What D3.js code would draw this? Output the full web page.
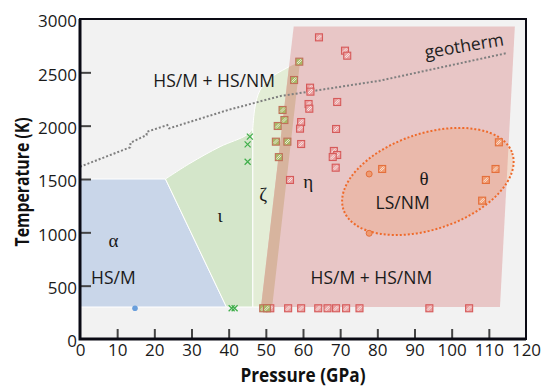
<!DOCTYPE html>
<html><head><meta charset="utf-8">
<script src="https://cdn.jsdelivr.net/npm/d3@7"></script>
<style>
html,body{margin:0;padding:0;background:#fff;}
svg{display:block;}
text{font-family:"Open Sans",sans-serif;}
</style></head>
<body><svg id="c" width="558" height="388"></svg>
<script>
// ---------- data ----------
const xTicks = [0,10,20,30,40,50,60,70,80,90,100,110,120];
const yTicks = [0,500,1000,1500,2000,2500,3000];

// phase regions (P in GPa, T in K)
const alphaRegion = [[0,300],[0,1500],[23,1500],[39.4,300]];
const iotaTop = [[23,1500],[29.6,1647],[37.7,1803],[44.8,1912],[46.5,1975]];
const iotaRest = [[46.5,300],[39.4,300]];
const zetaTop = [[46.5,1975],[47.1,2175],[48.4,2330],[51.1,2444],[55.6,2540],[59.2,2600]];
const zetaRest = [[51.7,300],[46.5,300]];
const pinkRegion = [[48.7,300],[57.5,2930],[117.0,2930],[113.0,300]];
const lsCenter = [93.6,1477];

const geotherm = [[0,1615],[13.5,1797],[13.6,1840],[17.9,1912],[18.0,1943],[23.5,2006],[24.0,1975],[40.4,2153],[54,2278],[80.7,2422],[114.8,2680]];

const alphaPts = [[14.8,288]];
const iotaX = [[40.8,288],[41.6,288],[45.7,1897],[45.1,1825],[45.1,1662]];
const zetaSq = [[59.0,2600],[57.6,2428],[54.5,2147],[55.0,2053],[53.2,1997],[52.7,1850],[55.8,1850],[53.5,1705],[49.3,288],[50.3,288]];
const etaSq = [[64.3,2828],[71.3,2703],[71.9,2656],[61.9,2356],[62.0,2319],[61.5,2203],[61.7,2159],[69.2,2222],[59.5,2034],[59.2,1972],[68.9,1969],[59.5,1828],[68.3,1763],[69.2,1725],[68.0,1706],[68.8,1606],[56.5,1491],
  [51.2,288],[56.0,288],[59.5,288],[64.1,288],[66.6,288],[68.9,288],[71.6,288],[75.2,288],[94.0,288],[104.7,288]];
const thetaSq = [[81.3,1594],[112.7,1844],[111.8,1594],[109.2,1491],[108.2,1297]];
const thetaCirc = [[77.8,1547],[77.8,991]];

const labels = [
  {t:"HS/M + HS/NM", p:36.1, T:2360, cls:"lab"},
  {t:"HS/M", p:9.0, T:513, cls:"lab"},
  {t:"LS/NM", p:86.8, T:1216, cls:"lab"},
  {t:"HS/M + HS/NM", p:78.4, T:513, cls:"lab"},
  {t:"α", p:9.0, T:860, cls:"gr"},
  {t:"ι", p:37.7, T:1100, cls:"gr"},
  {t:"ζ", p:49.3, T:1290, cls:"gr"},
  {t:"η", p:61.4, T:1420, cls:"gr"},
  {t:"θ", p:92.6, T:1440, cls:"gr"}
];

// ---------- chart ----------
const svg = d3.select("#c");
const x = d3.scaleLinear().domain([0,120]).range([80,526]);
const y = d3.scaleLinear().domain([0,3000]).range([339,19]);
const P = d => [x(d[0]), y(d[1])];

svg.append("rect").attr("x",x(0)).attr("y",y(3000)).attr("width",x(120)-x(0)).attr("height",y(0)-y(3000)).attr("fill","#f2f2f2");

const defs = svg.append("defs");
const poly = pts => "M" + pts.map(p => P(p).join(",")).join("L") + "Z";
const curved = (top, rest) => {
  const l = d3.line().x(d=>x(d[0])).y(d=>y(d[1])).curve(d3.curveCatmullRom);
  return l(top) + rest.map(p => "L" + P(p).join(",")).join("") + "Z";
};

svg.append("path").attr("d", poly(alphaRegion)).attr("fill","#c9d6e9").attr("stroke","#fff").attr("stroke-width",1);
svg.append("path").attr("d", curved(iotaTop, iotaRest)).attr("fill","#d4e6ca").attr("stroke","#fff").attr("stroke-width",1);
const zetaD = curved(zetaTop, zetaRest);
svg.append("path").attr("d", zetaD).attr("fill","#e3edd6").attr("stroke","#fff").attr("stroke-width",1);
svg.append("path").attr("d", poly(pinkRegion)).attr("fill","#e8c6c6");
defs.append("clipPath").attr("id","pinkClip").append("path").attr("d", poly(pinkRegion));
svg.append("path").attr("d", zetaD).attr("fill","#d7b49e").attr("clip-path","url(#pinkClip)");

// geotherm
svg.append("path").attr("d", d3.line().x(d=>x(d[0])).y(d=>y(d[1]))(geotherm))
  .attr("fill","none").attr("stroke","#7f7f7f").attr("stroke-width",2).attr("stroke-dasharray","2,2");
const g0 = P([93.0,2630]);
svg.append("text").attr("transform",`translate(${g0[0]},${g0[1]}) rotate(-9.5)`).attr("font-size",17.5).attr("fill","#222").text("geotherm");

// LS/NM ellipse
const ec = P(lsCenter);
svg.append("ellipse").attr("transform",`translate(${ec[0]},${ec[1]}) rotate(-18.5)`)
  .attr("rx",89).attr("ry",48).attr("fill","rgba(240,150,95,0.26)")
  .attr("stroke","#ef6a2a").attr("stroke-width",2).attr("stroke-dasharray","2,2");

// markers
function hatchSq(sel, data, fill, stroke){
  const g = sel.selectAll(null).data(data).enter().append("g").attr("transform", d => `translate(${x(d[0])},${y(d[1])})`);
  g.append("rect").attr("x",-3.5).attr("y",-3.5).attr("width",7).attr("height",7).attr("fill",fill).attr("stroke",stroke).attr("stroke-width",1.1);
  g.append("path").attr("d","M-2.5,1.5L1.5,-2.5M-1.5,2.5L2.5,-1.5").attr("stroke","#fff").attr("stroke-width",0.9).attr("opacity",0.8);
}
const mk = svg.append("g");
mk.selectAll(null).data(alphaPts).enter().append("circle").attr("cx",d=>x(d[0])).attr("cy",d=>y(d[1])).attr("r",2.8).attr("fill","#6a9fdc");
mk.selectAll(null).data(iotaX).enter().append("path")
  .attr("d", d => { const [a,b]=P(d); return `M${a-3},${b-3}L${a+3},${b+3}M${a-3},${b+3}L${a+3},${b-3}`; })
  .attr("stroke","#3fae4a").attr("stroke-width",1.2).attr("fill","none");
hatchSq(mk, etaSq, "#e9a0a0", "#d65a5a");
hatchSq(mk, zetaSq, "#a9b866", "#c0705a");
hatchSq(mk, thetaSq, "#f09a70", "#e4703c");
mk.selectAll(null).data(thetaCirc).enter().append("circle").attr("cx",d=>x(d[0])).attr("cy",d=>y(d[1])).attr("r",3)
  .attr("fill","#f09a70").attr("stroke","#e4703c").attr("stroke-width",1);

// labels
svg.selectAll(null).data(labels).enter().append("text")
  .attr("x", d=>x(d.p)).attr("y", d=>y(d.T)).attr("text-anchor","middle")
  .attr("font-size", d=> d.cls==="lab" ? 17.5 : 19)
  .style("font-family", d=> d.cls==="lab" ? '"Open Sans",sans-serif' : '"Liberation Serif",serif')
  .attr("fill","#1a1a1a").text(d=>d.t);

// axes
const ax = svg.append("g").attr("transform",`translate(0,${y(0)})`)
  .call(d3.axisBottom(x).tickValues(xTicks).tickFormat(d3.format("d")).tickSizeInner(-10).tickSizeOuter(0).tickPadding(5));
const ay = svg.append("g").attr("transform",`translate(${x(0)},0)`)
  .call(d3.axisLeft(y).tickValues(yTicks).tickFormat(d3.format("d")).tickSizeInner(-11).tickSizeOuter(0).tickPadding(3));
[ax,ay].forEach(a => {
  a.select(".domain").remove();
  a.selectAll("text").attr("font-size",17).attr("fill","#1a1a1a").style("font-family",'"Open Sans",sans-serif');
  a.selectAll("line").attr("stroke","#444").attr("stroke-width",2);
});
ax.selectAll(".tick").filter(d => d===0 || d===120).select("line").remove();
ay.selectAll(".tick").filter(d => d===0 || d===3000).select("line").remove();
ay.selectAll("text").attr("dy","0.46em");

// frame
svg.append("rect").attr("x",x(0)).attr("y",y(3000)).attr("width",x(120)-x(0)).attr("height",y(0)-y(3000))
  .attr("fill","none").attr("stroke","#0a0a14").attr("stroke-width",2);
svg.append("path").attr("d",`M${x(0)},${y(3000)}L${x(0)},${y(0)}L${x(120)},${y(0)}`).attr("fill","none").attr("stroke","#0a0a14").attr("stroke-width",3);

// axis titles
svg.append("text").attr("x",(x(0)+x(120))/2).attr("y",381.5).attr("text-anchor","middle")
  .attr("font-size",20).attr("font-weight","bold").attr("fill","#111")
  .attr("textLength",125).attr("lengthAdjust","spacingAndGlyphs").text("Pressure (GPa)");
svg.append("text").attr("transform",`translate(29,182) rotate(-90)`).attr("text-anchor","middle")
  .attr("font-size",20).attr("font-weight","bold").attr("fill","#111")
  .attr("textLength",129).attr("lengthAdjust","spacingAndGlyphs").text("Temperature (K)");
</script></body></html>
